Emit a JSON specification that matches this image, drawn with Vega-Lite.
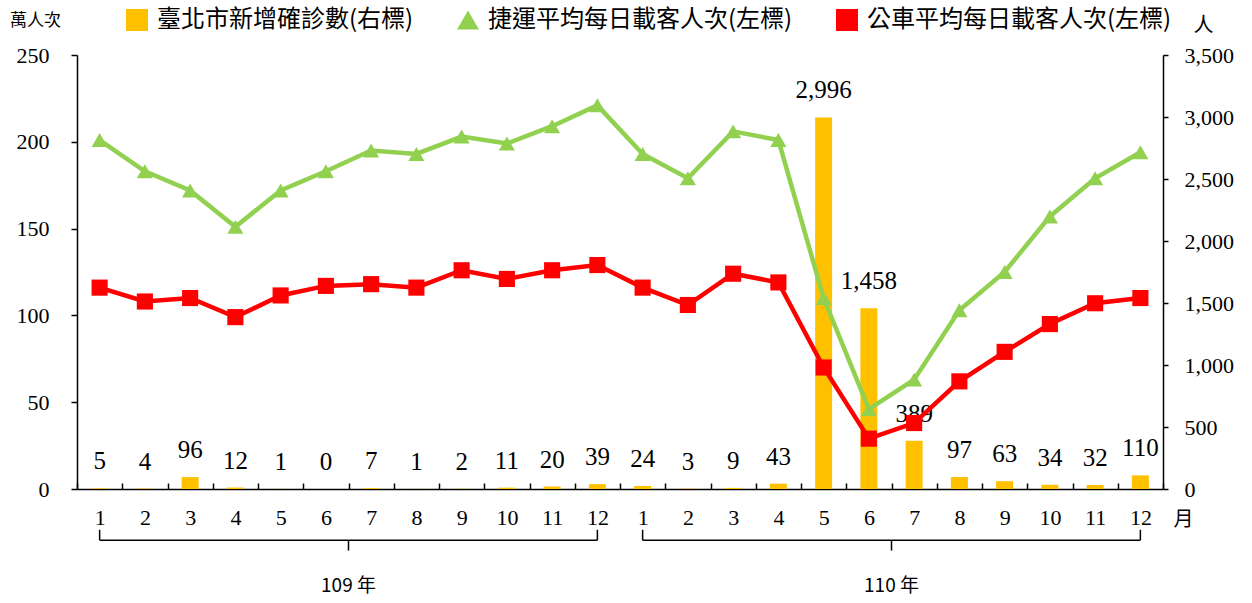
{
  "$schema": "https://vega.github.io/schema/vega-lite/v6.json",
  "width": 1086,
  "height": 434,
  "autosize": {"type": "none"},
  "padding": {"left": 77, "top": 55, "right": 89, "bottom": 114},
  "background": "white",
  "config": {
    "view": {"stroke": null},
    "axis": {"grid": false, "domainColor": "black", "tickColor": "black", "labelColor": "black", "labelFont": "Liberation Serif, Times New Roman, serif", "labelFontSize": 22, "titleColor": "black", "titleFontWeight": "normal", "domainWidth": 1.5, "tickWidth": 1.5},
    "legend": {"labelFont": "Noto Sans CJK TC", "labelFontSize": 24, "labelColor": "black"}
  },
  "datasets": {
    "cases": [
      {"i": 1, "cases": 5}, {"i": 2, "cases": 4}, {"i": 3, "cases": 96}, {"i": 4, "cases": 12},
      {"i": 5, "cases": 1}, {"i": 6, "cases": 0}, {"i": 7, "cases": 7}, {"i": 8, "cases": 1},
      {"i": 9, "cases": 2}, {"i": 10, "cases": 11}, {"i": 11, "cases": 20}, {"i": 12, "cases": 39},
      {"i": 13, "cases": 24}, {"i": 14, "cases": 3}, {"i": 15, "cases": 9}, {"i": 16, "cases": 43},
      {"i": 17, "cases": 2996}, {"i": 18, "cases": 1458}, {"i": 19, "cases": 389}, {"i": 20, "cases": 97},
      {"i": 21, "cases": 63}, {"i": 22, "cases": 34}, {"i": 23, "cases": 32}, {"i": 24, "cases": 110}
    ],
    "lines": [
      {"i": 1, "series": "捷運平均每日載客人次(左標)", "v": 201},
      {"i": 2, "series": "捷運平均每日載客人次(左標)", "v": 183},
      {"i": 3, "series": "捷運平均每日載客人次(左標)", "v": 172},
      {"i": 4, "series": "捷運平均每日載客人次(左標)", "v": 151},
      {"i": 5, "series": "捷運平均每日載客人次(左標)", "v": 172},
      {"i": 6, "series": "捷運平均每日載客人次(左標)", "v": 183},
      {"i": 7, "series": "捷運平均每日載客人次(左標)", "v": 195},
      {"i": 8, "series": "捷運平均每日載客人次(左標)", "v": 193},
      {"i": 9, "series": "捷運平均每日載客人次(左標)", "v": 203},
      {"i": 10, "series": "捷運平均每日載客人次(左標)", "v": 199},
      {"i": 11, "series": "捷運平均每日載客人次(左標)", "v": 209},
      {"i": 12, "series": "捷運平均每日載客人次(左標)", "v": 221},
      {"i": 13, "series": "捷運平均每日載客人次(左標)", "v": 193},
      {"i": 14, "series": "捷運平均每日載客人次(左標)", "v": 179},
      {"i": 15, "series": "捷運平均每日載客人次(左標)", "v": 206},
      {"i": 16, "series": "捷運平均每日載客人次(左標)", "v": 201},
      {"i": 17, "series": "捷運平均每日載客人次(左標)", "v": 110},
      {"i": 18, "series": "捷運平均每日載客人次(左標)", "v": 46},
      {"i": 19, "series": "捷運平均每日載客人次(左標)", "v": 63},
      {"i": 20, "series": "捷運平均每日載客人次(左標)", "v": 103},
      {"i": 21, "series": "捷運平均每日載客人次(左標)", "v": 125},
      {"i": 22, "series": "捷運平均每日載客人次(左標)", "v": 157},
      {"i": 23, "series": "捷運平均每日載客人次(左標)", "v": 179},
      {"i": 24, "series": "捷運平均每日載客人次(左標)", "v": 194},
      {"i": 1, "series": "公車平均每日載客人次(左標)", "v": 116},
      {"i": 2, "series": "公車平均每日載客人次(左標)", "v": 108},
      {"i": 3, "series": "公車平均每日載客人次(左標)", "v": 110},
      {"i": 4, "series": "公車平均每日載客人次(左標)", "v": 99},
      {"i": 5, "series": "公車平均每日載客人次(左標)", "v": 111.5},
      {"i": 6, "series": "公車平均每日載客人次(左標)", "v": 117},
      {"i": 7, "series": "公車平均每日載客人次(左標)", "v": 118},
      {"i": 8, "series": "公車平均每日載客人次(左標)", "v": 116},
      {"i": 9, "series": "公車平均每日載客人次(左標)", "v": 126},
      {"i": 10, "series": "公車平均每日載客人次(左標)", "v": 121},
      {"i": 11, "series": "公車平均每日載客人次(左標)", "v": 126},
      {"i": 12, "series": "公車平均每日載客人次(左標)", "v": 129},
      {"i": 13, "series": "公車平均每日載客人次(左標)", "v": 116},
      {"i": 14, "series": "公車平均每日載客人次(左標)", "v": 106},
      {"i": 15, "series": "公車平均每日載客人次(左標)", "v": 124},
      {"i": 16, "series": "公車平均每日載客人次(左標)", "v": 119},
      {"i": 17, "series": "公車平均每日載客人次(左標)", "v": 70},
      {"i": 18, "series": "公車平均每日載客人次(左標)", "v": 29},
      {"i": 19, "series": "公車平均每日載客人次(左標)", "v": 38},
      {"i": 20, "series": "公車平均每日載客人次(左標)", "v": 62},
      {"i": 21, "series": "公車平均每日載客人次(左標)", "v": 79},
      {"i": 22, "series": "公車平均每日載客人次(左標)", "v": 95},
      {"i": 23, "series": "公車平均每日載客人次(左標)", "v": 107},
      {"i": 24, "series": "公車平均每日載客人次(左標)", "v": 110}
    ],
    "brackets": [
      {"a": 1, "b": 12, "mid": 6, "year": "109 年"},
      {"a": 13, "b": 24, "mid": 18, "year": "110 年"}
    ]
  },
  "layer": [
    {
      "layer": [
        {
          "data": {"name": "cases"},
          "mark": {"type": "bar", "width": 17, "color": "#FFC000"},
          "encoding": {
            "x": {"field": "i", "type": "ordinal", "scale": {"paddingInner": 0, "paddingOuter": 0},
              "axis": {"labelAngle": 0, "labelExpr": "datum.value > 12 ? datum.value - 12 : datum.value", "tickBand": "extent", "tickSize": -6, "labelPadding": 24, "title": "月", "titleFont": "Noto Sans CJK TC", "titleFontSize": 20, "titleAngle": 0, "titleX": 1106, "titleY": 30, "titleAlign": "center", "titleBaseline": "middle"}},
            "y": {"field": "cases", "type": "quantitative", "scale": {"domain": [0, 3500], "nice": false},
              "axis": {"orient": "right", "values": [0, 500, 1000, 1500, 2000, 2500, 3000, 3500], "format": ",d", "tickSize": 5, "labelPadding": 16, "title": "人", "titleFont": "Noto Sans CJK TC", "titleFontSize": 20, "titleAngle": 0, "titleX": 40, "titleY": -30, "titleAlign": "center", "titleBaseline": "middle"}},
            "color": {"datum": "臺北市新增確診數(右標)"}
          }
        },
        {
          "data": {"name": "cases"},
          "mark": {"type": "text", "font": "Liberation Serif, Times New Roman, serif", "fontSize": 25, "baseline": "bottom", "dy": -14, "color": "black"},
          "encoding": {
            "x": {"field": "i", "type": "ordinal"},
            "y": {"field": "cases", "type": "quantitative"},
            "text": {"field": "cases", "type": "quantitative", "format": ","}
          }
        }
      ]
    },
    {
      "layer": [
        {
          "data": {"name": "lines"},
          "mark": {"type": "line", "strokeWidth": 4.5},
          "encoding": {
            "x": {"field": "i", "type": "ordinal"},
            "y": {"field": "v", "type": "quantitative", "scale": {"domain": [0, 250], "nice": false},
              "axis": {"orient": "left", "values": [0, 50, 100, 150, 200, 250], "tickSize": 6, "labelPadding": 22, "title": "萬人次", "titleFont": "Noto Sans CJK TC", "titleFontSize": 17, "titleAngle": 0, "titleX": -42, "titleY": -35, "titleAlign": "center", "titleBaseline": "middle"}},
            "color": {"field": "series", "type": "nominal"}
          }
        },
        {
          "data": {"name": "lines"},
          "mark": {"type": "point", "filled": true, "opacity": 1, "size": 260},
          "encoding": {
            "x": {"field": "i", "type": "ordinal"},
            "y": {"field": "v", "type": "quantitative"},
            "color": {"field": "series", "type": "nominal",
              "scale": {"domain": ["臺北市新增確診數(右標)", "捷運平均每日載客人次(左標)", "公車平均每日載客人次(左標)"], "range": ["#FFC000", "#92D050", "#FF0000"]},
              "legend": {"title": null, "orient": "none", "legendX": 48, "legendY": -47, "direction": "horizontal", "symbolSize": 484, "symbolStrokeWidth": 0, "labelLimit": 0, "columnPadding": 42, "labelOffset": 8}},
            "shape": {"field": "series", "type": "nominal",
              "scale": {"domain": ["臺北市新增確診數(右標)", "捷運平均每日載客人次(左標)", "公車平均每日載客人次(左標)"], "range": ["square", "triangle-up", "square"]},
              "legend": {"title": null, "orient": "none", "legendX": 48, "legendY": -47, "direction": "horizontal", "symbolSize": 484, "symbolStrokeWidth": 0, "labelLimit": 0, "columnPadding": 42, "labelOffset": 8}}
          }
        },
        {
          "data": {"name": "brackets"},
          "mark": {"type": "rule", "color": "black", "strokeWidth": 1.5},
          "encoding": {"x": {"field": "a", "type": "ordinal"}, "x2": {"field": "b"}, "y": {"datum": -29.5}}
        },
        {
          "data": {"name": "brackets"},
          "mark": {"type": "rule", "color": "black", "strokeWidth": 1.5},
          "encoding": {"x": {"field": "a", "type": "ordinal"}, "y": {"datum": -29.5}, "y2": {"datum": -23.5}}
        },
        {
          "data": {"name": "brackets"},
          "mark": {"type": "rule", "color": "black", "strokeWidth": 1.5},
          "encoding": {"x": {"field": "b", "type": "ordinal"}, "y": {"datum": -29.5}, "y2": {"datum": -23.5}}
        },
        {
          "data": {"name": "brackets"},
          "mark": {"type": "rule", "color": "black", "strokeWidth": 1.5},
          "encoding": {"x": {"field": "mid", "type": "ordinal", "bandPosition": 1}, "y": {"datum": -29.5}, "y2": {"datum": -35.5}}
        },
        {
          "data": {"name": "brackets"},
          "mark": {"type": "text", "font": "Noto Sans CJK TC", "fontSize": 19, "color": "black", "baseline": "middle"},
          "encoding": {"x": {"field": "mid", "type": "ordinal", "bandPosition": 1}, "y": {"datum": -56}, "text": {"field": "year"}}
        }
      ]
    }
  ],
  "resolve": {"scale": {"y": "independent"}}
}
